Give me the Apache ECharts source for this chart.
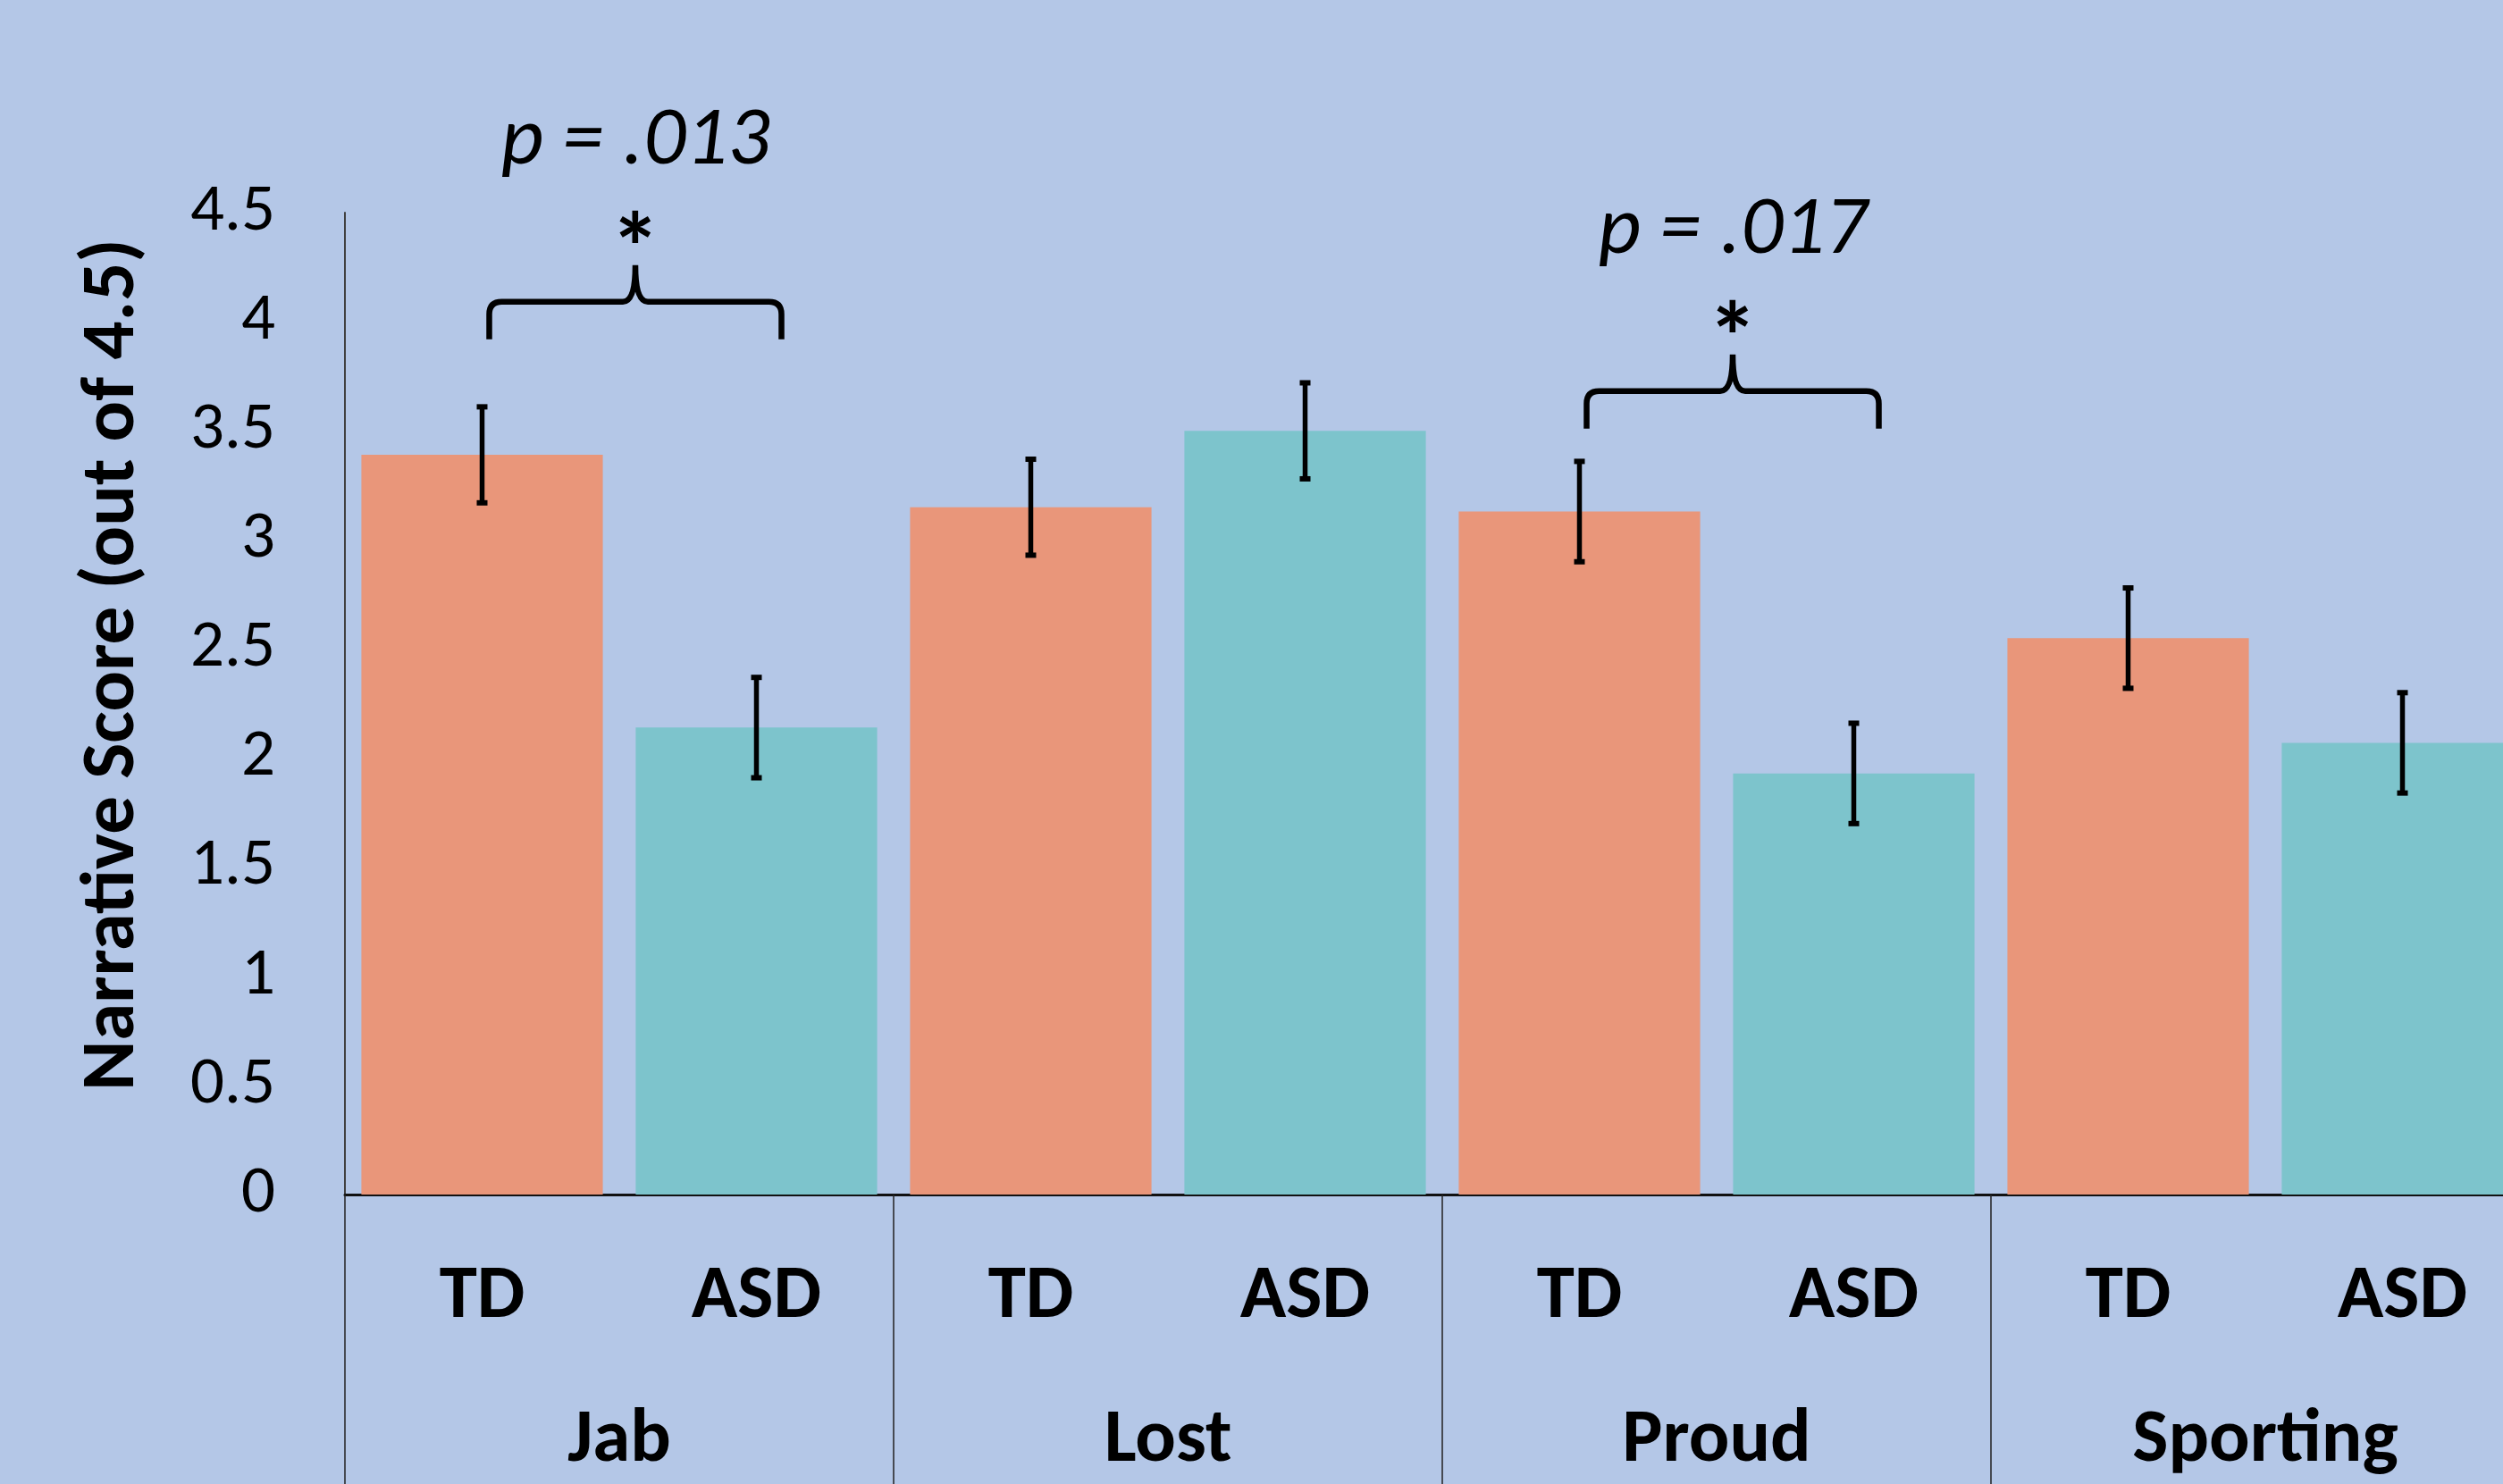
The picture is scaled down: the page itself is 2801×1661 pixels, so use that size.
<!DOCTYPE html>
<html>
<head>
<meta charset="utf-8">
<script src="https://cdn.jsdelivr.net/npm/echarts@6/dist/echarts.min.js"></script>
<style>
  html, body { margin: 0; padding: 0; background: #B4C7E7; }
  #main { width: 2801px; height: 1661px; }
</style>
</head>
<body>
<div id="main"></div>
<script>
// story categories and groups
const stories = ['Jab', 'Lost', 'Proud', 'Sporting'];
const groups = ['TD', 'ASD'];
const tdScores = [3.39, 3.15, 3.13, 2.55];
const asdScores = [2.14, 3.50, 1.93, 2.07];
const tdErrors = [0.22, 0.22, 0.23, 0.23];
const asdErrors = [0.23, 0.22, 0.23, 0.23];
// significance brackets: story index, height of bracket feet, label
const sigStories = [0, 2];
const sigHeights = [3.92, 3.51];
const sigLabels = ['p = .013', 'p = .017'];

const FONT = 'Carlito, Lato, sans-serif';
const colors = { TD: '#E9967A', ASD: '#7DC4CC' };

// 8 bars, TD / ASD for each story
const barLabels = [];
const barData = [];
const errData = [];
stories.forEach(function (s, i) {
  barLabels.push(groups[0], groups[1]);
  barData.push({ value: tdScores[i], itemStyle: { color: colors.TD } });
  barData.push({ value: asdScores[i], itemStyle: { color: colors.ASD } });
  errData.push([i * 2, tdScores[i] - tdErrors[i], tdScores[i] + tdErrors[i]]);
  errData.push([i * 2 + 1, asdScores[i] - asdErrors[i], asdScores[i] + asdErrors[i]]);
});
const sigData = sigStories.map(function (s, k) { return [s * 2, s * 2 + 1, sigHeights[k]]; });

const chart = echarts.init(document.getElementById('main'));
chart.setOption({
  backgroundColor: '#B4C7E7',
  animation: false,
  grid: { left: 386, right: -41, top: 238, bottom: 324, containLabel: false, outerBoundsMode: 'none' },
  xAxis: [{
    type: 'category',
    data: barLabels,
    axisLine: { show: true, lineStyle: { color: '#111', width: 3 } },
    axisTick: { show: false },
    axisLabel: {
      interval: 0, margin: 116, verticalAlign: 'middle',
      color: '#000', fontFamily: FONT, fontWeight: 'bold', fontSize: 85
    }
  }, {
    type: 'category',
    data: stories,
    position: 'bottom',
    offset: 0,
    axisLine: { show: false },
    axisTick: { show: true, length: 340, lineStyle: { color: '#222', width: 1.5 } },
    axisLabel: {
      interval: 0, margin: 277, verticalAlign: 'middle',
      color: '#000', fontFamily: FONT, fontWeight: 'bold', fontSize: 85
    }
  }],
  yAxis: {
    type: 'value',
    min: 0, max: 4.5, interval: 0.5,
    axisLine: { show: true, lineStyle: { color: '#404040', width: 2 } },
    axisTick: { show: false },
    splitLine: { show: false },
    axisLabel: { margin: 78, color: '#000', fontFamily: FONT, fontSize: 75 }
  },
  graphic: [{
    type: 'text',
    x: 128, y: 744,
    rotation: Math.PI / 2,
    style: {
      text: 'Narrative Score (out of 4.5)',
      fill: '#000',
      font: 'bold 85px ' + FONT,
      align: 'center', verticalAlign: 'middle'
    }
  }],
  series: [{
    type: 'bar',
    xAxisIndex: 0,
    data: barData,
    barWidth: '88%'
  }, {
    type: 'custom',
    xAxisIndex: 0,
    z: 5,
    data: errData,
    renderItem: function (params, api) {
      const x = api.value(0);
      const lo = api.coord([x, api.value(1)]);
      const hi = api.coord([x, api.value(2)]);
      const cx = lo[0];
      return {
        type: 'group',
        children: [
          { type: 'line', shape: { x1: cx, y1: hi[1], x2: cx, y2: lo[1] }, style: { stroke: '#000', lineWidth: 5.5 } },
          { type: 'rect', shape: { x: cx - 6, y: hi[1] - 3, width: 12, height: 6 }, style: { fill: '#000' } },
          { type: 'rect', shape: { x: cx - 6, y: lo[1] - 3, width: 12, height: 6 }, style: { fill: '#000' } }
        ]
      };
    }
  }, {
    type: 'custom',
    xAxisIndex: 0,
    z: 6,
    clip: false,
    data: sigData,
    renderItem: function (params, api) {
      const a = api.coord([api.value(0), api.value(2)]);
      const b = api.coord([api.value(1), api.value(2)]);
      const xl = a[0] + 8, xr = b[0] + 28, xm = (xl + xr) / 2;
      const yb = a[1], yh = yb - 42, yp = yb - 83, r = 14;
      const d = 'M' + xl + ',' + yb + ' L' + xl + ',' + (yh + r) +
        ' Q' + xl + ',' + yh + ' ' + (xl + r) + ',' + yh +
        ' L' + (xm - r) + ',' + yh +
        ' Q' + xm + ',' + yh + ' ' + xm + ',' + yp +
        ' Q' + xm + ',' + yh + ' ' + (xm + r) + ',' + yh +
        ' L' + (xr - r) + ',' + yh +
        ' Q' + xr + ',' + yh + ' ' + xr + ',' + (yh + r) +
        ' L' + xr + ',' + yb;
      return {
        type: 'group',
        children: [
          { type: 'path', shape: { pathData: d }, style: { stroke: '#000', lineWidth: 6.5, fill: null } },
          { type: 'text', style: { text: '*', x: xm, y: yb - 92, fill: '#000', font: 'bold 112px ' + FONT, align: 'center', verticalAlign: 'middle' } },
          { type: 'text', style: { text: sigLabels[params.dataIndex], x: xm, y: yb - 220, fill: '#000', font: 'italic 93px ' + FONT, align: 'center', verticalAlign: 'middle' } }
        ]
      };
    }
  }]
});
</script>
</body>
</html>
